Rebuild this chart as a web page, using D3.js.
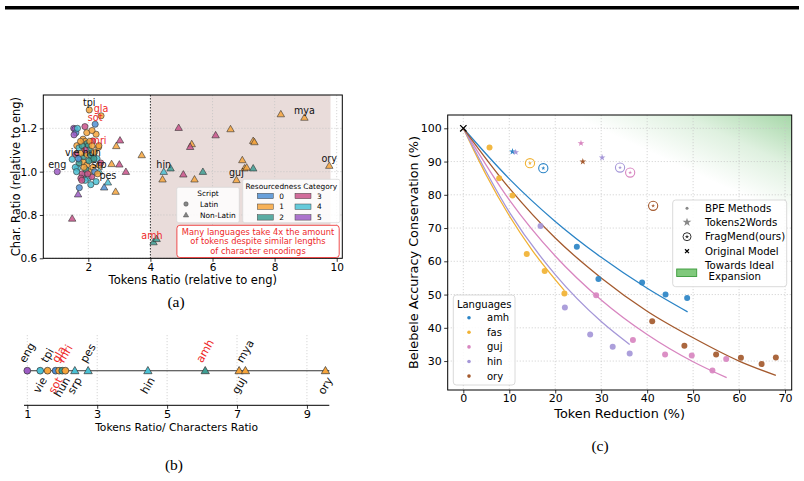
<!DOCTYPE html>
<html lang="en">
<head>
<meta charset="UTF-8">
<title>Token ratios and accuracy conservation</title>
<script src="https://d3js.org/d3.v7.min.js"></script>
<style>
  body { margin: 0; background: #fff; overflow: hidden; }
  svg { display: block; }
</style>
</head>
<body>
<svg width="804" height="481"></svg>
<script>
// ---------- panel (a): tokens ratio vs char ratio ----------
const latinTok  = [1.00,2.03,2.41,2.22,1.89,1.53,1.57,1.60,1.54,1.65,2.25,2.14,2.33,1.83,1.90,1.96,2.00,2.03,1.63,1.70,2.34,1.48,2.11,1.73,1.84,1.65,1.89,2.00,1.80,1.76,2.11,2.25,1.71,1.90,2.05,2.15,1.95,1.85,1.95,2.08,1.75,1.80,2.20,2.28,2.35,1.60,1.70,1.58,2.20,1.90,2.05,2.12,1.75,2.40,1.92,2.02,1.68,2.18,1.86,1.98,2.30,1.62,2.08,1.95,2.12,1.79];
const latinChar = [1.000,1.285,1.258,1.219,1.208,1.200,1.196,1.180,1.170,1.200,1.173,1.142,1.113,1.150,1.140,1.130,1.120,1.100,1.120,1.110,1.120,1.057,1.056,1.054,1.045,1.016,0.990,0.970,0.990,0.970,0.977,0.954,0.926,0.960,1.000,1.020,1.030,1.070,1.080,1.075,1.085,1.120,1.090,1.060,1.030,1.080,1.040,1.020,1.000,1.100,1.140,1.120,1.140,1.040,1.010,1.050,1.060,1.060,1.020,0.990,0.990,1.000,0.940,1.180,1.190,0.960];
const latinCat  = [5,1,1,0,3,5,5,0,5,4,1,3,1,1,1,2,2,2,1,4,1,4,2,4,1,4,4,4,3,3,3,4,0,4,1,1,1,2,1,2,1,2,1,4,1,3,2,4,0,3,1,1,1,3,2,2,0,2,1,3,1,4,4,1,1,3];

const nonLatinTok  = [8.20,8.96,4.91,6.58,6.10,5.33,5.28,7.31,7.35,3.72,6.96,7.03,7.10,7.31,4.43,4.65,5.69,5.06,4.39,5.42,6.77,9.76,4.10,4.20,3.02,2.90,2.75,3.00,3.21,2.63,2.51,2.88,1.67,1.48,2.35];
const nonLatinChar = [1.266,1.250,1.203,1.197,1.169,1.128,1.115,1.143,1.137,1.077,1.054,1.016,1.020,1.016,1.000,1.016,1.000,0.988,0.965,0.965,0.962,1.028,0.675,0.690,1.145,1.119,1.036,1.034,1.000,0.951,0.928,0.908,0.896,0.784,1.003];
const nonLatinCat  = [1,1,3,1,3,1,3,1,1,1,1,1,1,2,4,2,2,3,1,1,1,1,2,2,3,1,1,3,3,4,0,1,5,3,4];

const aLabelNames = ['tpi','gla','sot','mri','vie','hun','srp','pes','eng','hin','guj','mya','ory','amh'];
const aLabelTok   = [2.03,2.41,2.22,2.33,1.48,2.11,2.35,2.63,1.00,4.43,6.77,8.96,9.76,4.05];
const aLabelChar  = [1.285,1.258,1.219,1.113,1.057,1.056,1.003,0.951,1.000,1.000,0.962,1.250,1.028,0.675];
const redLangs = ['gla','sot','mri','amh'];

const resCategories = ['0','1','2','3','4','5'];
const scriptNames = ['Latin','Non-Latin'];
const aXTicks = [2,4,6,8,10];
const aYTicks = [0.6,0.8,1.0,1.2];
const noteLines = ['Many languages take 4x the amount','of tokens despite similar lengths','of character encodings'];

// ---------- panel (b): tokens ratio / characters ratio ----------
const bLangs  = ['eng','vie','tpi','sot','gla','hun','mri','srp','pes','hin','amh','guj','mya','ory'];
const bRatio  = [1.00,1.37,1.58,1.81,1.91,2.00,2.09,2.36,2.74,4.45,6.09,7.06,7.24,9.53];
const bCat    = [5,4,1,0,1,2,1,4,4,4,2,1,1,1];
const bLatin  = [true,true,true,true,true,true,true,false,false,false,false,false,false,false];
const bXTicks = [1,3,5,7,9];

// ---------- panel (c): token reduction vs accuracy ----------
const languages = ['amh','fas','guj','hin','ory'];
const amhBpeRed = [24.7,29.4,38.9,44.0,48.7], amhBpeAcc = [64.4,54.7,53.6,50.0,49.0];
const fasBpeRed = [5.7,7.8,10.7,13.8,17.7,22.0], fasBpeAcc = [94.2,85.0,79.8,62.2,57.1,50.3];
const gujBpeRed = [28.9,36.9,43.9,49.7,54.2,57.2], gujBpeAcc = [49.8,36.3,32.0,31.7,27.2,30.6];
const hinBpeRed = [16.8,22.1,27.6,32.5,36.2], hinBpeAcc = [70.6,46.1,38.0,34.3,32.3];
const oryBpeRed = [41.1,48.1,55.0,60.4,64.9,68.0], oryBpeAcc = [42.0,34.6,32.0,31.0,29.1,31.1];

// fitted trend lines
const amhFitRed = [0,10,20,30,40,48.8], amhFitAcc = [100,84.8,72,61.2,51.9,44.8];
const fasFitRed = [0,5,10,15,22],        fasFitAcc = [100,85.9,73.7,63.3,51.2];
const gujFitRed = [0,10,20,30,40,50,57.3], gujFitAcc = [100,78.5,61.6,48.4,38,29.8,25];
const hinFitRed = [0,10,20,30,36.2],     hinFitAcc = [100,74.8,56,41.9,35];
const oryFitRed = [0,10,20,30,40,50,60,68], oryFitAcc = [100,82,67,55,45,37,30,25.7];

const t2wLang = ['amh','hin','guj','ory','hin'];
const t2wRed  = [10.7,11.4,25.6,26.0,30.2];
const t2wAcc  = [93.0,92.8,95.5,90.0,91.2];

const fmLang = ['fas','amh','hin','guj','ory'];
const fmRed  = [14.5,17.4,34.1,36.3,41.3];
const fmAcc  = [89.5,88.0,88.2,86.7,76.7];

const origRed = [0], origAcc = [100];
const cXTicks = [0,10,20,30,40,50,60,70];
const cYTicks = [30,40,50,60,70,80,90,100];
const methodNames = ['BPE Methods','Tokens2Words','FragMend(ours)','Original Model'];

// ---------- drawing ----------
const svg = d3.select('svg').attr('font-family', '"DejaVu Sans", sans-serif');
svg.append('rect').attr('width', 804).attr('height', 481).attr('fill', '#fff');
svg.append('rect').attr('x', 5).attr('y', 6).attr('width', 794).attr('height', 3.5).attr('fill', '#000');

const catColor = ['#4f8fd3','#f6a53c','#3e9e93','#c9528a','#4bc1d4','#9d5cc4'];
const langColor = {amh:'#2b84c6', fas:'#f1b233', guj:'#d886c0', hin:'#a597d8', ory:'#a45a2e'};
const gridCol = '#c4c4c4';

function styleAxis(g, fs) {
  g.select('.domain').remove();
  g.attr('font-family', '"DejaVu Sans", sans-serif').attr('font-size', fs);
  g.selectAll('.tick line').attr('stroke', '#000').attr('stroke-width', 0.8);
  g.selectAll('.tick text').attr('fill', '#000');
}

// ===== (a) =====
const aBox = {left: 43.3, right: 342.3, top: 95, bottom: 258.3};
const xa = d3.scaleLinear().domain([0.55, 10.18]).range([aBox.left, aBox.right]);
const ya = d3.scaleLinear().domain([0.6, 1.354]).range([aBox.bottom, aBox.top]);
const gA = svg.append('g');

gA.append('rect')
  .attr('x', xa(4)).attr('y', aBox.top)
  .attr('width', xa(9.8) - xa(4)).attr('height', aBox.bottom - aBox.top)
  .attr('fill', '#e9dcda');

aXTicks.forEach(t => gA.append('line').attr('x1', xa(t)).attr('x2', xa(t)).attr('y1', aBox.top).attr('y2', aBox.bottom)
  .attr('stroke', gridCol).attr('stroke-width', 0.7).attr('stroke-dasharray', '1.2,1.8'));
aYTicks.forEach(t => gA.append('line').attr('y1', ya(t)).attr('y2', ya(t)).attr('x1', aBox.left).attr('x2', aBox.right)
  .attr('stroke', gridCol).attr('stroke-width', 0.7).attr('stroke-dasharray', '1.2,1.8'));

gA.append('line').attr('x1', xa(4)).attr('x2', xa(4)).attr('y1', aBox.top).attr('y2', aBox.bottom)
  .attr('stroke', '#222').attr('stroke-width', 0.9).attr('stroke-dasharray', '1.5,1.5');

const triA = d3.symbol().type(d3.symbolTriangle).size(24);
nonLatinTok.forEach((v, i) => {
  gA.append('path').attr('d', triA)
    .attr('transform', `translate(${xa(v)},${ya(nonLatinChar[i]) + 0.6})`)
    .attr('fill', catColor[nonLatinCat[i]]).attr('fill-opacity', 0.85)
    .attr('stroke', '#333').attr('stroke-width', 0.6);
});
latinTok.forEach((v, i) => {
  gA.append('circle').attr('cx', xa(v)).attr('cy', ya(latinChar[i])).attr('r', 3.1)
    .attr('fill', catColor[latinCat[i]]).attr('fill-opacity', 0.85)
    .attr('stroke', '#333').attr('stroke-width', 0.6);
});

aLabelNames.forEach((n, i) => {
  gA.append('text').text(n)
    .attr('x', xa(aLabelTok[i])).attr('y', ya(aLabelChar[i]) - 3.5)
    .attr('text-anchor', 'middle').attr('font-size', 9.6)
    .attr('fill', redLangs.includes(n) ? '#ee2a2a' : '#111');
});

gA.append('rect').attr('x', aBox.left).attr('y', aBox.top)
  .attr('width', aBox.right - aBox.left).attr('height', aBox.bottom - aBox.top)
  .attr('fill', 'none').attr('stroke', '#000').attr('stroke-width', 1);

styleAxis(gA.append('g').attr('transform', `translate(0,${aBox.bottom})`)
  .call(d3.axisBottom(xa).tickValues(aXTicks).tickSize(3.5).tickPadding(2).tickFormat(d3.format('d'))), 10.5);
styleAxis(gA.append('g').attr('transform', `translate(${aBox.left},0)`)
  .call(d3.axisLeft(ya).tickValues(aYTicks).tickSize(3.5).tickPadding(2.5).tickFormat(d3.format('.1f'))), 10.5);

gA.append('text').text('Tokens Ratio (relative to eng)')
  .attr('x', (aBox.left + aBox.right) / 2).attr('y', 283.5).attr('text-anchor', 'middle').attr('font-size', 11.5);
gA.append('text').text('Char. Ratio (relative to eng)')
  .attr('transform', `translate(20,${(aBox.top + aBox.bottom) / 2}) rotate(-90)`)
  .attr('text-anchor', 'middle').attr('font-size', 11.5);

// script legend
const sl = gA.append('g');
sl.append('rect').attr('x', 176.7).attr('y', 187.3).attr('width', 62.6).attr('height', 35.4).attr('rx', 2)
  .attr('fill', '#fff').attr('fill-opacity', 0.85).attr('stroke', '#d6d6d6').attr('stroke-width', 0.7);
sl.append('text').text('Script').attr('x', 208).attr('y', 196).attr('text-anchor', 'middle').attr('font-size', 7.4);
scriptNames.forEach((s, i) => {
  const yy = 204 + i * 11;
  if (i === 0) sl.append('circle').attr('cx', 186).attr('cy', yy).attr('r', 2.2).attr('fill', '#888').attr('stroke', '#444').attr('stroke-width', 0.5);
  else sl.append('path').attr('d', d3.symbol().type(d3.symbolTriangle).size(12)).attr('transform', `translate(186,${yy + 0.4})`)
    .attr('fill', '#888').attr('stroke', '#444').attr('stroke-width', 0.5);
  sl.append('text').text(s).attr('x', 200).attr('y', yy + 2.6).attr('font-size', 7.4);
});

// resourcedness legend
const rl = gA.append('g');
rl.append('rect').attr('x', 242.7).attr('y', 179.3).attr('width', 97.3).attr('height', 43.4).attr('rx', 2)
  .attr('fill', '#fff').attr('fill-opacity', 0.85).attr('stroke', '#d6d6d6').attr('stroke-width', 0.7);
rl.append('text').text('Resourcedness Category').attr('x', 291.3).attr('y', 188.5).attr('text-anchor', 'middle').attr('font-size', 7.4);
resCategories.forEach((c, i) => {
  const col = Math.floor(i / 3), row = i % 3;
  const px = col === 0 ? 257.3 : 295;
  const yy = 196 + row * 10.7;
  rl.append('rect').attr('x', px).attr('y', yy - 2.7).attr('width', 16).attr('height', 5.4)
    .attr('fill', catColor[i]).attr('fill-opacity', 0.85).attr('stroke', '#444').attr('stroke-width', 0.5);
  rl.append('text').text(c).attr('x', px + 22).attr('y', yy + 2.6).attr('font-size', 7.4);
});

// annotation box
const nb = gA.append('g');
nb.append('rect').attr('x', 176.9).attr('y', 225.3).attr('width', 162.3).attr('height', 32.2).attr('rx', 3)
  .attr('fill', '#fff').attr('stroke', '#ee3a3a').attr('stroke-width', 0.9);
noteLines.forEach((t, i) => nb.append('text').text(t).attr('x', 258).attr('y', 234.6 + i * 9.7)
  .attr('text-anchor', 'middle').attr('font-size', 8.3).attr('fill', '#ee2a2a'));

// ===== (b) =====
const bBox = {left: 24, right: 329.3, top: 335, bottom: 405.3};
const xb = d3.scaleLinear().domain([0.906, 9.64]).range([bBox.left, bBox.right]);
const lineY = 370.7;
const gB = svg.append('g');
bXTicks.forEach(t => gB.append('line').attr('x1', xb(t)).attr('x2', xb(t)).attr('y1', bBox.top).attr('y2', bBox.bottom)
  .attr('stroke', gridCol).attr('stroke-width', 0.7).attr('stroke-dasharray', '1.2,1.8'));
gB.append('line').attr('x1', bBox.left).attr('x2', bBox.right).attr('y1', lineY).attr('y2', lineY)
  .attr('stroke', '#333').attr('stroke-width', 1.1);
gB.append('line').attr('x1', bBox.left).attr('x2', bBox.right).attr('y1', bBox.bottom).attr('y2', bBox.bottom)
  .attr('stroke', '#000').attr('stroke-width', 1);
styleAxis(gB.append('g').attr('transform', `translate(0,${bBox.bottom})`)
  .call(d3.axisBottom(xb).tickValues(bXTicks).tickSize(3.5).tickPadding(1.5).tickFormat(d3.format('d'))), 11.3);

const triB = d3.symbol().type(d3.symbolTriangle).size(30);
bRatio.forEach((v, i) => {
  if (bLatin[i]) gB.append('circle').attr('cx', xb(v)).attr('cy', lineY).attr('r', 3.4)
    .attr('fill', catColor[bCat[i]]).attr('stroke', '#333').attr('stroke-width', 0.7);
  else gB.append('path').attr('d', triB).attr('transform', `translate(${xb(v)},${lineY + 0.6})`)
    .attr('fill', catColor[bCat[i]]).attr('stroke', '#333').attr('stroke-width', 0.7);
});
bLangs.forEach((n, i) => {
  const up = i % 2 === 0;
  const t = gB.append('text').text(n).attr('font-size', 11).attr('text-anchor', 'middle')
    .attr('dominant-baseline', 'central').attr('fill', redLangs.includes(n) ? '#ee2a2a' : '#111');
  const L = t.node().getComputedTextLength();
  const bh = L * Math.sin(Math.PI / 3) + 8 * 0.5;
  const cy = up ? lineY - 7 - bh / 2 : lineY + 5.5 + bh / 2;
  t.attr('transform', `translate(${xb(bRatio[i])},${cy}) rotate(-60)`);
});
gB.append('text').text('Tokens Ratio/ Characters Ratio')
  .attr('x', (bBox.left + bBox.right) / 2).attr('y', 431).attr('text-anchor', 'middle').attr('font-size', 10.7);

// ===== (c) =====
const cBox = {left: 447.7, right: 791.7, top: 115, bottom: 390};
const xc = d3.scaleLinear().domain([-3.4, 71.45]).range([cBox.left, cBox.right]);
const yc = d3.scaleLinear().domain([21.3, 104]).range([cBox.bottom, cBox.top]);
const gC = svg.append('g');
const defs = svg.append('defs');
defs.append('clipPath').attr('id', 'cclip').append('rect')
  .attr('x', cBox.left).attr('y', cBox.top).attr('width', cBox.right - cBox.left).attr('height', cBox.bottom - cBox.top);
const grad = defs.append('linearGradient').attr('id', 'ideal').attr('gradientUnits', 'userSpaceOnUse')
  .attr('x1', cBox.right).attr('y1', cBox.top).attr('x2', 752).attr('y2', 200);
grad.append('stop').attr('offset', 0).attr('stop-color', '#4caf50').attr('stop-opacity', 0.5);
grad.append('stop').attr('offset', 0.5).attr('stop-color', '#4caf50').attr('stop-opacity', 0.18);
grad.append('stop').attr('offset', 1).attr('stop-color', '#4caf50').attr('stop-opacity', 0);

const plotC = gC.append('g').attr('clip-path', 'url(#cclip)');
plotC.append('rect').attr('x', cBox.left).attr('y', cBox.top).attr('width', cBox.right - cBox.left)
  .attr('height', cBox.bottom - cBox.top).attr('fill', 'url(#ideal)');

cXTicks.forEach(t => plotC.append('line').attr('x1', xc(t)).attr('x2', xc(t)).attr('y1', cBox.top).attr('y2', cBox.bottom)
  .attr('stroke', gridCol).attr('stroke-width', 0.7).attr('stroke-dasharray', '1.2,1.8'));
cYTicks.forEach(t => plotC.append('line').attr('y1', yc(t)).attr('y2', yc(t)).attr('x1', cBox.left).attr('x2', cBox.right)
  .attr('stroke', gridCol).attr('stroke-width', 0.7).attr('stroke-dasharray', '1.2,1.8'));

const fitRed = {amh: amhFitRed, fas: fasFitRed, guj: gujFitRed, hin: hinFitRed, ory: oryFitRed};
const fitAcc = {amh: amhFitAcc, fas: fasFitAcc, guj: gujFitAcc, hin: hinFitAcc, ory: oryFitAcc};
const bpeRed = {amh: amhBpeRed, fas: fasBpeRed, guj: gujBpeRed, hin: hinBpeRed, ory: oryBpeRed};
const bpeAcc = {amh: amhBpeAcc, fas: fasBpeAcc, guj: gujBpeAcc, hin: hinBpeAcc, ory: oryBpeAcc};

const fitLine = d3.line().x(d => xc(d[0])).y(d => yc(d[1])).curve(d3.curveMonotoneX);
languages.forEach(l => {
  const pts = fitRed[l].map((r, i) => [r, fitAcc[l][i]]);
  plotC.append('path').attr('d', fitLine(pts)).attr('fill', 'none')
    .attr('stroke', langColor[l]).attr('stroke-width', 1.3);
});
languages.forEach(l => {
  bpeRed[l].forEach((r, i) => plotC.append('circle').attr('cx', xc(r)).attr('cy', yc(bpeAcc[l][i])).attr('r', 3)
    .attr('fill', langColor[l]).attr('fill-opacity', 0.92));
});
const starSm = d3.symbol().type(d3.symbolStar).size(14);
t2wRed.forEach((r, i) => plotC.append('path').attr('d', starSm)
  .attr('transform', `translate(${xc(r)},${yc(t2wAcc[i])})`).attr('fill', langColor[t2wLang[i]]));
const starTiny = d3.symbol().type(d3.symbolStar).size(5);
fmRed.forEach((r, i) => {
  const c = langColor[fmLang[i]];
  plotC.append('circle').attr('cx', xc(r)).attr('cy', yc(fmAcc[i])).attr('r', 4.6)
    .attr('fill', 'none').attr('stroke', c).attr('stroke-width', 1.1);
  plotC.append('path').attr('d', starTiny).attr('transform', `translate(${xc(r)},${yc(fmAcc[i])})`).attr('fill', c);
});
const cross = d3.symbol().type(d3.symbolX).size(28);
origRed.forEach((r, i) => plotC.append('path').attr('d', cross)
  .attr('transform', `translate(${xc(r)},${yc(origAcc[i])})`).attr('fill', 'none').attr('stroke', '#000').attr('stroke-width', 1.3));

gC.append('rect').attr('x', cBox.left).attr('y', cBox.top).attr('width', cBox.right - cBox.left)
  .attr('height', cBox.bottom - cBox.top).attr('fill', 'none').attr('stroke', '#000').attr('stroke-width', 1);
styleAxis(gC.append('g').attr('transform', `translate(0,${cBox.bottom})`)
  .call(d3.axisBottom(xc).tickValues(cXTicks).tickSize(3.5).tickPadding(1).tickFormat(d3.format('d'))), 11);
styleAxis(gC.append('g').attr('transform', `translate(${cBox.left},0)`)
  .call(d3.axisLeft(yc).tickValues(cYTicks).tickSize(3.5).tickPadding(2.5).tickFormat(d3.format('d'))), 11);

gC.append('text').text('Token Reduction (%)').attr('x', (cBox.left + cBox.right) / 2).attr('y', 418)
  .attr('text-anchor', 'middle').attr('font-size', 12.8);
gC.append('text').text('Belebele Accuracy Conservation (%)')
  .attr('transform', `translate(418,${(cBox.top + cBox.bottom) / 2}) rotate(-90)`)
  .attr('text-anchor', 'middle').attr('font-size', 12.8);

// languages legend
const ll = gC.append('g');
ll.append('rect').attr('x', 453.3).attr('y', 295).attr('width', 61.7).attr('height', 90).attr('rx', 3)
  .attr('fill', '#fff').attr('fill-opacity', 0.85).attr('stroke', '#d0d0d0').attr('stroke-width', 0.8);
ll.append('text').text('Languages').attr('x', 484.2).attr('y', 307.5).attr('text-anchor', 'middle').attr('font-size', 10);
languages.forEach((l, i) => {
  const yy = 317.7 + i * 14.6;
  ll.append('circle').attr('cx', 469).attr('cy', yy).attr('r', 1.8).attr('fill', langColor[l]);
  ll.append('text').text(l).attr('x', 487).attr('y', yy + 3.5).attr('font-size', 10);
});

// methods legend
const ml = gC.append('g');
ml.append('rect').attr('x', 672.7).attr('y', 200).attr('width', 114).attr('height', 86.7).attr('rx', 3)
  .attr('fill', '#fff').attr('fill-opacity', 0.85).attr('stroke', '#d0d0d0').attr('stroke-width', 0.8);
const my = [208.3, 222.3, 236.7, 251.2];
ml.append('circle').attr('cx', 687).attr('cy', my[0]).attr('r', 1.5).attr('fill', '#888');
ml.append('path').attr('d', d3.symbol().type(d3.symbolStar).size(24)).attr('transform', `translate(687,${my[1]})`).attr('fill', '#888');
ml.append('circle').attr('cx', 687).attr('cy', my[2]).attr('r', 4).attr('fill', 'none').attr('stroke', '#333').attr('stroke-width', 1);
ml.append('path').attr('d', d3.symbol().type(d3.symbolStar).size(6)).attr('transform', `translate(687,${my[2]})`).attr('fill', '#333');
ml.append('path').attr('d', d3.symbol().type(d3.symbolX).size(12)).attr('transform', `translate(687,${my[3]})`)
  .attr('fill', 'none').attr('stroke', '#000').attr('stroke-width', 1.2);
methodNames.forEach((m, i) => ml.append('text').text(m).attr('x', 705).attr('y', my[i] + 3.6).attr('font-size', 10.2));
ml.append('rect').attr('x', 676.7).attr('y', 269).attr('width', 20).attr('height', 7.5)
  .attr('fill', '#80c97c').attr('stroke', '#3b9a3b').attr('stroke-width', 0.9);
ml.append('text').text('Towards Ideal').attr('x', 705).attr('y', 268.9).attr('font-size', 10.2);
ml.append('text').text('Expansion').attr('x', 708.5).attr('y', 280.2).attr('font-size', 10.2);

// ---------- captions ----------
[['(a)', 176, 307], ['(b)', 174, 470], ['(c)', 600, 451]].forEach(c => {
  svg.append('text').text(c[0]).attr('x', c[1]).attr('y', c[2]).attr('text-anchor', 'middle')
    .attr('font-family', '"Liberation Serif", "DejaVu Serif", serif').attr('font-size', 15.5);
});
</script>
</body>
</html>
